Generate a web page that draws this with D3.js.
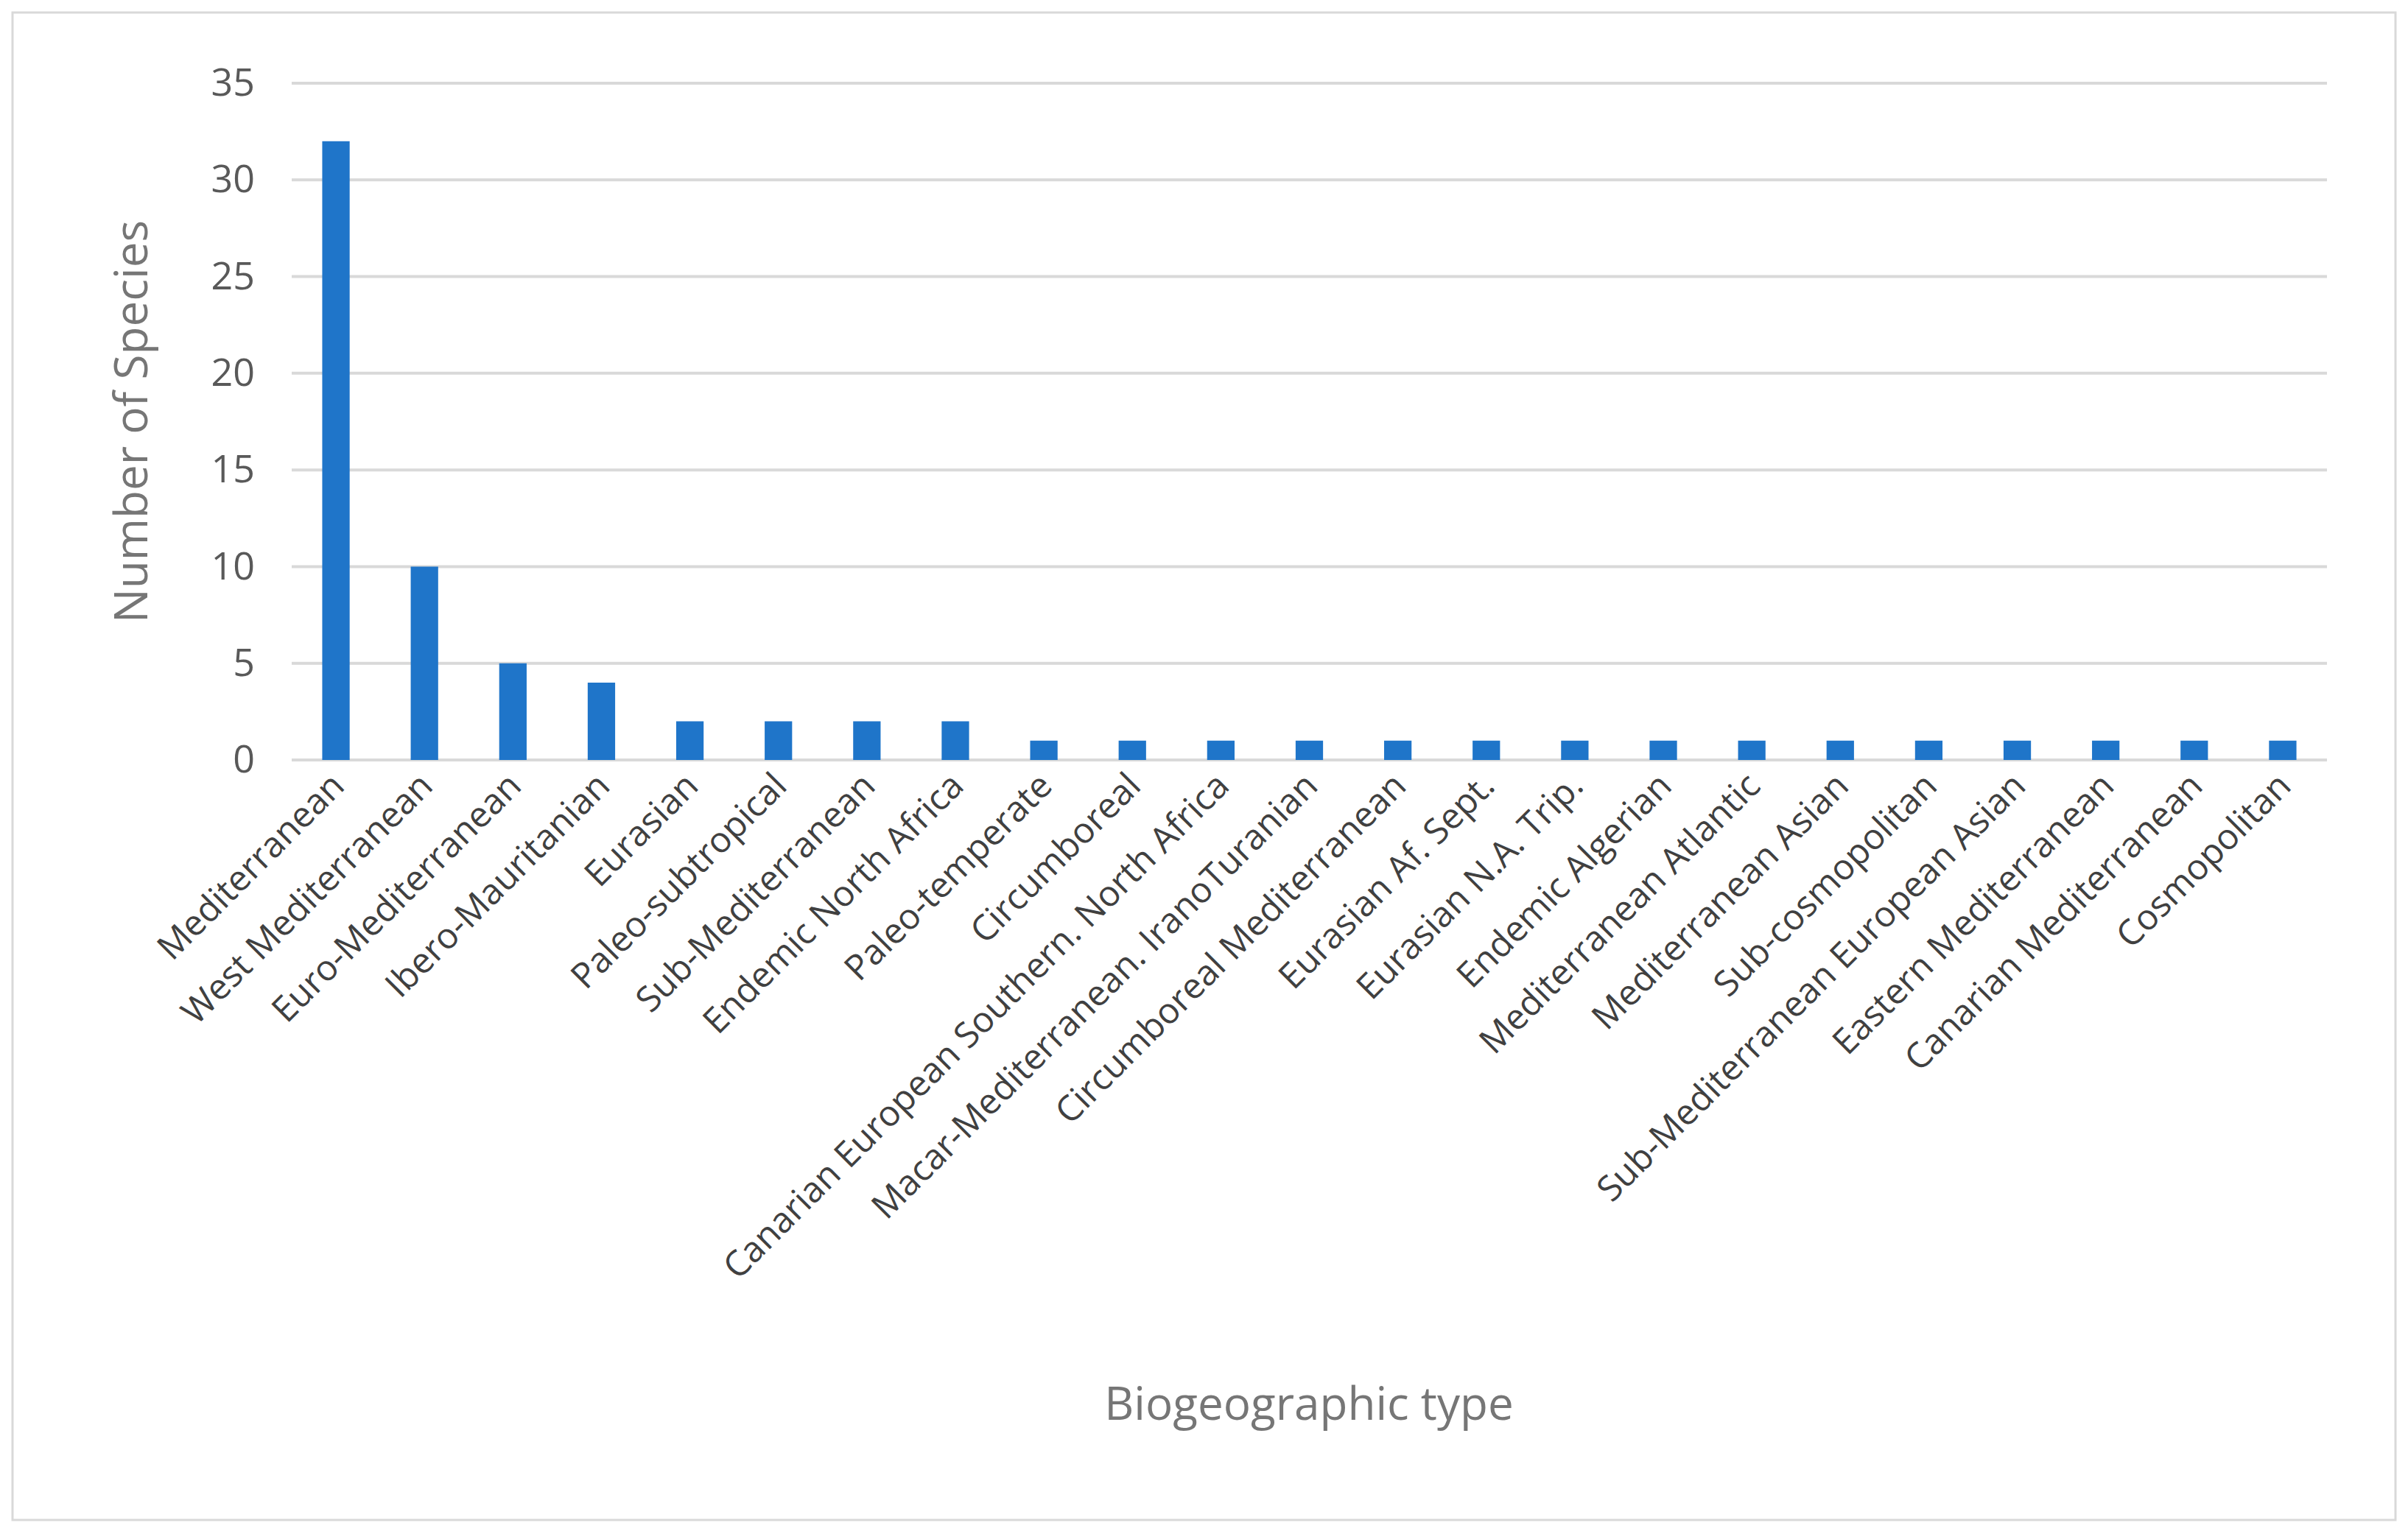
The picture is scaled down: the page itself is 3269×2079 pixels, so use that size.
<!DOCTYPE html>
<html>
<head>
<meta charset="utf-8">
<script src="https://cdn.jsdelivr.net/npm/d3@7"></script>
<style>
body{margin:0;background:#fff;}
text{font-family:"Open Sans","Noto Sans",sans-serif;}
</style>
</head>
<body>
<svg id="chart" width="3269" height="2079"></svg>
<script>
// data
var categories = ["Mediterranean","West Mediterranean","Euro-Mediterranean","Ibero-Mauritanian","Eurasian",
  "Paleo-subtropical","Sub-Mediterranean","Endemic North Africa","Paleo-temperate","Circumboreal",
  "Canarian European Southern. North Africa","Macar-Mediterranean. IranoTuranian","Circumboreal Mediterranean",
  "Eurasian Af. Sept.","Eurasian N.A. Trip.","Endemic Algerian","Mediterranean Atlantic","Mediterranean Asian",
  "Sub-cosmopolitan","Sub-Mediterranean European Asian","Eastern Mediterranean","Canarian Mediterranean","Cosmopolitan"]
var counts = [32,10,5,4,2,2,2,2,1,1,1,1,1,1,1,1,1,1,1,1,1,1,1]
var yTicks = [0,5,10,15,20,25,30,35]

var svg = d3.select("#chart")
var plotLeft = 396, plotRight = 3159, plotTop = 113, plotBottom = 1032

svg.append("rect").attr("x",17).attr("y",17).attr("width",3235).attr("height",2047)
  .attr("fill","#fff").attr("stroke","#d9d9d9").attr("stroke-width",3)

var x = d3.scaleBand().domain(categories).range([plotLeft,plotRight]).paddingInner(0.69).paddingOuter(0.345)
var y = d3.scaleLinear().domain([0,35]).range([plotBottom,plotTop])

// gridlines
svg.append("g").selectAll("line").data(yTicks).enter().append("line")
  .attr("x1",plotLeft).attr("x2",plotRight)
  .attr("y1",function(d){return y(d)}).attr("y2",function(d){return y(d)})
  .attr("stroke","#d9d9d9").attr("stroke-width",4)

var yAxis = svg.append("g").attr("transform","translate("+(plotLeft-50)+",0)")
  .call(d3.axisLeft(y).tickValues(yTicks).tickSize(0).tickPadding(0))
yAxis.select(".domain").remove()
yAxis.selectAll("text").attr("font-size",52).attr("fill","#595959")

svg.append("g").selectAll("rect").data(counts).enter().append("rect")
  .attr("x",function(d,i){return x(categories[i])})
  .attr("width",x.bandwidth())
  .attr("y",function(d){return y(d)})
  .attr("height",function(d){return y(0)-y(d)})
  .attr("fill","#1f75c9")

// category labels rotated
svg.append("g").selectAll("text").data(categories).enter().append("text")
  .attr("transform",function(d){
    return "translate("+(x(d)+x.bandwidth()/2+14)+","+(plotBottom+38)+") rotate(-45)"})
  .attr("text-anchor","end")
  .attr("font-size",48).attr("fill","#404040")
  .text(function(d){return d})

svg.append("text").attr("transform","translate(200,"+((plotTop+plotBottom)/2)+") rotate(-90)")
  .attr("text-anchor","middle").attr("font-size",62).attr("fill","#767676")
  .text("Number of Species")

svg.append("text").attr("x",1777).attr("y",1928)
  .attr("text-anchor","middle").attr("font-size",62).attr("fill","#767676")
  .text("Biogeographic type")
</script>
</body>
</html>
